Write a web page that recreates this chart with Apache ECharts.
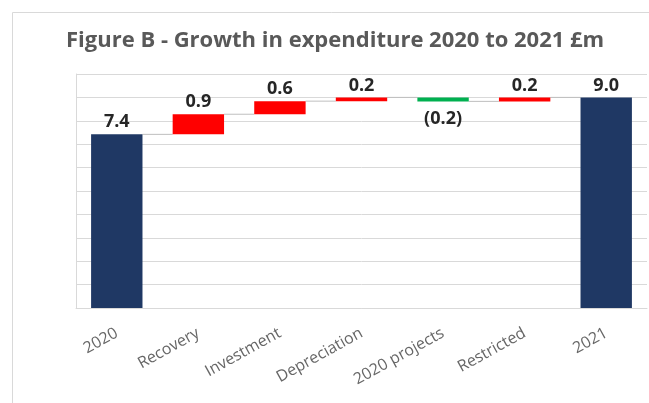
<!DOCTYPE html>
<html>
<head>
<meta charset="utf-8">
<script src="https://cdn.jsdelivr.net/npm/echarts@6/dist/echarts.min.js"></script>
<style>
html,body{margin:0;padding:0;background:#fff;}
#c{width:649px;height:403px;}
</style>
</head>
<body>
<div id="c"></div>
<script>
var categories = ['2020', 'Recovery', 'Investment', 'Depreciation', '2020 projects', 'Restricted', '2021'];
var values = [7.42, 0.86, 0.56, 0.16, -0.17, 0.17, 9.0];
var isTotal = [true, false, false, false, false, false, true];

var base = [], height = [], colors = [], tops = [];
var running = 0;
for (var i = 0; i < values.length; i++) {
  var v = values[i];
  if (isTotal[i]) {
    base.push(0); height.push(v); colors.push('#1f3864');
    running = v;
  } else {
    var start = running, end = running + v;
    base.push(Math.min(start, end));
    height.push(Math.abs(v));
    colors.push(v >= 0 ? '#ff0000' : '#00b050');
    running = end;
  }
  tops.push(running);
}

function fmt(v) {
  var s = Math.abs(v).toFixed(1);
  return v < 0 ? '(' + s + ')' : s;
}

var connData = [];
for (var j = 0; j < values.length - 1; j++) connData.push([j, tops[j]]);

var chart = echarts.init(document.getElementById('c'));
chart.setOption({
  animation: false,
  title: {
    text: 'Figure B - Growth in expenditure 2020 to 2021 \u00a3m',
    left: 61, top: 25,
    textStyle: { fontFamily: 'Open Sans', fontWeight: 'bold', fontSize: 22, color: '#595959' }
  },
  graphic: [{
    type: 'rect', left: 10, top: 10,
    shape: { width: 700, height: 450 },
    style: { fill: 'none', stroke: '#d9d9d9', lineWidth: 1 },
    z: -1
  }],
  grid: { left: 76, right: 2, top: 74, bottom: 95 },
  xAxis: {
    type: 'category',
    data: categories,
    axisLine: { show: true, lineStyle: { color: '#d9d9d9' } },
    axisTick: { show: false },
    axisLabel: { rotate: 29, interval: 0, color: '#666666', fontFamily: 'Open Sans', fontSize: 16, margin: 24 }
  },
  yAxis: {
    type: 'value', min: 0, max: 10, interval: 1,
    axisLabel: { show: false },
    axisTick: { show: false },
    axisLine: { show: true, lineStyle: { color: '#d9d9d9' } },
    splitLine: { lineStyle: { color: '#d9d9d9', width: 1 } }
  },
  series: [
    {
      type: 'bar', stack: 'w', data: base, barCategoryGap: '37%',
      itemStyle: { color: 'transparent' }, silent: true
    },
    {
      type: 'bar', stack: 'w',
      data: height.map(function (h, k) {
        return {
          value: h,
          itemStyle: { color: colors[k] },
          label: {
            show: true,
            position: values[k] < 0 ? 'bottom' : 'top',
            formatter: fmt(values[k]),
            distance: values[k] < 0 ? 8 : 3
          }
        };
      }),
      label: { fontFamily: 'Open Sans', fontWeight: 'bold', fontSize: 18, color: '#262626' }
    },
    {
      type: 'custom',
      data: connData,
      renderItem: function (params, api) {
        var idx = api.value(0);
        var y = api.value(1);
        var p1 = api.coord([idx, y]);
        var p2 = api.coord([idx + 1, y]);
        var bw = api.size([1, 0])[0] * 0.63 / 2;
        return {
          type: 'line',
          shape: { x1: p1[0] + bw, y1: p1[1], x2: p2[0] - bw, y2: p2[1] },
          style: { stroke: '#bfbfbf', lineWidth: 1 }
        };
      },
      z: 1
    }
  ]
});
</script>
</body>
</html>
